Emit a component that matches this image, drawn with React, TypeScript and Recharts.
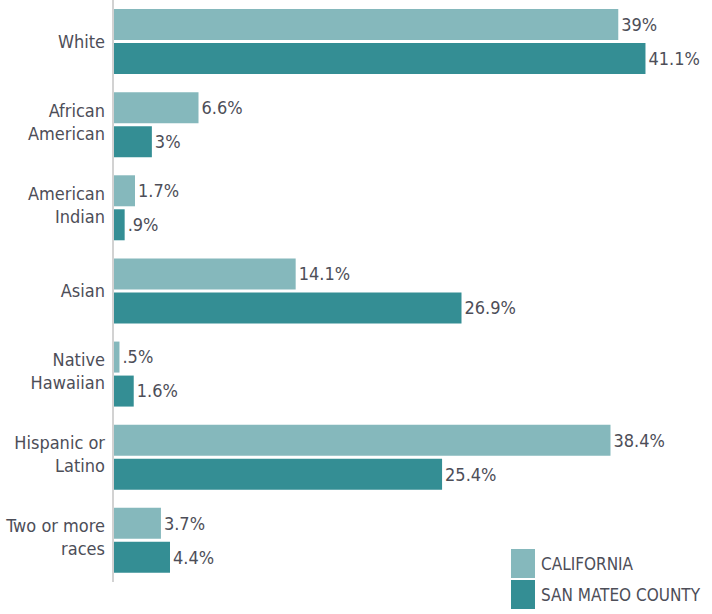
import React from 'react';
import { BarChart, Bar, XAxis, YAxis, LabelList } from 'recharts';

const categories = ['White', 'African American', 'American Indian', 'Asian', 'Native Hawaiian', 'Hispanic or Latino', 'Two or more races'];
const categoryLines = [['White'], ['African', 'American'], ['American', 'Indian'], ['Asian'], ['Native', 'Hawaiian'], ['Hispanic or', 'Latino'], ['Two or more', 'races']];
const california = [39, 6.6, 1.7, 14.1, 0.5, 38.4, 3.7];
const sanMateo = [41.1, 3, 0.9, 26.9, 1.6, 25.4, 4.4];
const seriesNames = ['CALIFORNIA', 'SAN MATEO COUNTY'];
const seriesColors = ['#85b8bc', '#348e94'];

const data = categories.map((c, i) => ({ name: c, ca: california[i], smc: sanMateo[i] }));

const FONT = '"DejaVu Sans Condensed", "DejaVu Sans", sans-serif';
const TEXT = '#4d4e58';
const textStyle = { fontStretch: 'condensed' as const };

const fmt = (v: any) => {
  const n = Number(v);
  const s = String(n);
  return (n < 1 ? s.replace(/^0/, '') : s) + '%';
};

const Tick = (props: any) => {
  const { y, payload } = props;
  const idx = categories.indexOf(payload.value);
  const lines = categoryLines[idx] || [payload.value];
  const lh = 23;
  const start = -((lines.length - 1) * lh) / 2 - (lines.length > 1 ? 3 : 0);
  return (
    <text x={105} y={y} textAnchor="end" fill={TEXT} fontFamily={FONT} fontSize={18} style={textStyle}>
      {lines.map((l: string, i: number) => (
        <tspan key={i} x={105} y={y + start + i * lh} dy="0.35em">{l}</tspan>
      ))}
    </text>
  );
};

export default function App() {
  return (
    <div style={{ position: 'absolute', left: 0, top: 0, width: 712, height: 614, background: '#fff' }}>
      <BarChart
        width={712}
        height={614}
        data={data}
        layout="vertical"
        margin={{ top: 0, right: 16, bottom: 32, left: 0 }}
        barCategoryGap={9}
        barGap={3}
      >
        <XAxis type="number" domain={[0, 45]} hide />
        <YAxis
          type="category"
          dataKey="name"
          width={113}
          tickLine={false}
          axisLine={{ stroke: '#d2d2d2', strokeWidth: 2 }}
          tick={<Tick />}
          interval={0}
        />
        <Bar dataKey="ca" name={seriesNames[0]} fill={seriesColors[0]} isAnimationActive={false}>
          <LabelList dataKey="ca" position="right" offset={3} formatter={fmt} fill={TEXT} fontFamily={FONT} fontSize={18} style={textStyle} />
        </Bar>
        <Bar dataKey="smc" name={seriesNames[1]} fill={seriesColors[1]} isAnimationActive={false}>
          <LabelList dataKey="smc" position="right" offset={3} formatter={fmt} fill={TEXT} fontFamily={FONT} fontSize={18} style={textStyle} />
        </Bar>
      </BarChart>
      <div style={{ position: 'absolute', left: 511, top: 549, fontFamily: FONT, fontSize: 17, color: TEXT, fontStretch: 'condensed' }}>
        {seriesNames.map((n, i) => (
          <div key={n} style={{ display: 'flex', alignItems: 'center', height: 29, marginBottom: 2 }}>
            <div style={{ width: 24, height: 29, background: seriesColors[i], marginRight: 6 }} />
            <span>{n}</span>
          </div>
        ))}
      </div>
    </div>
  );
}
